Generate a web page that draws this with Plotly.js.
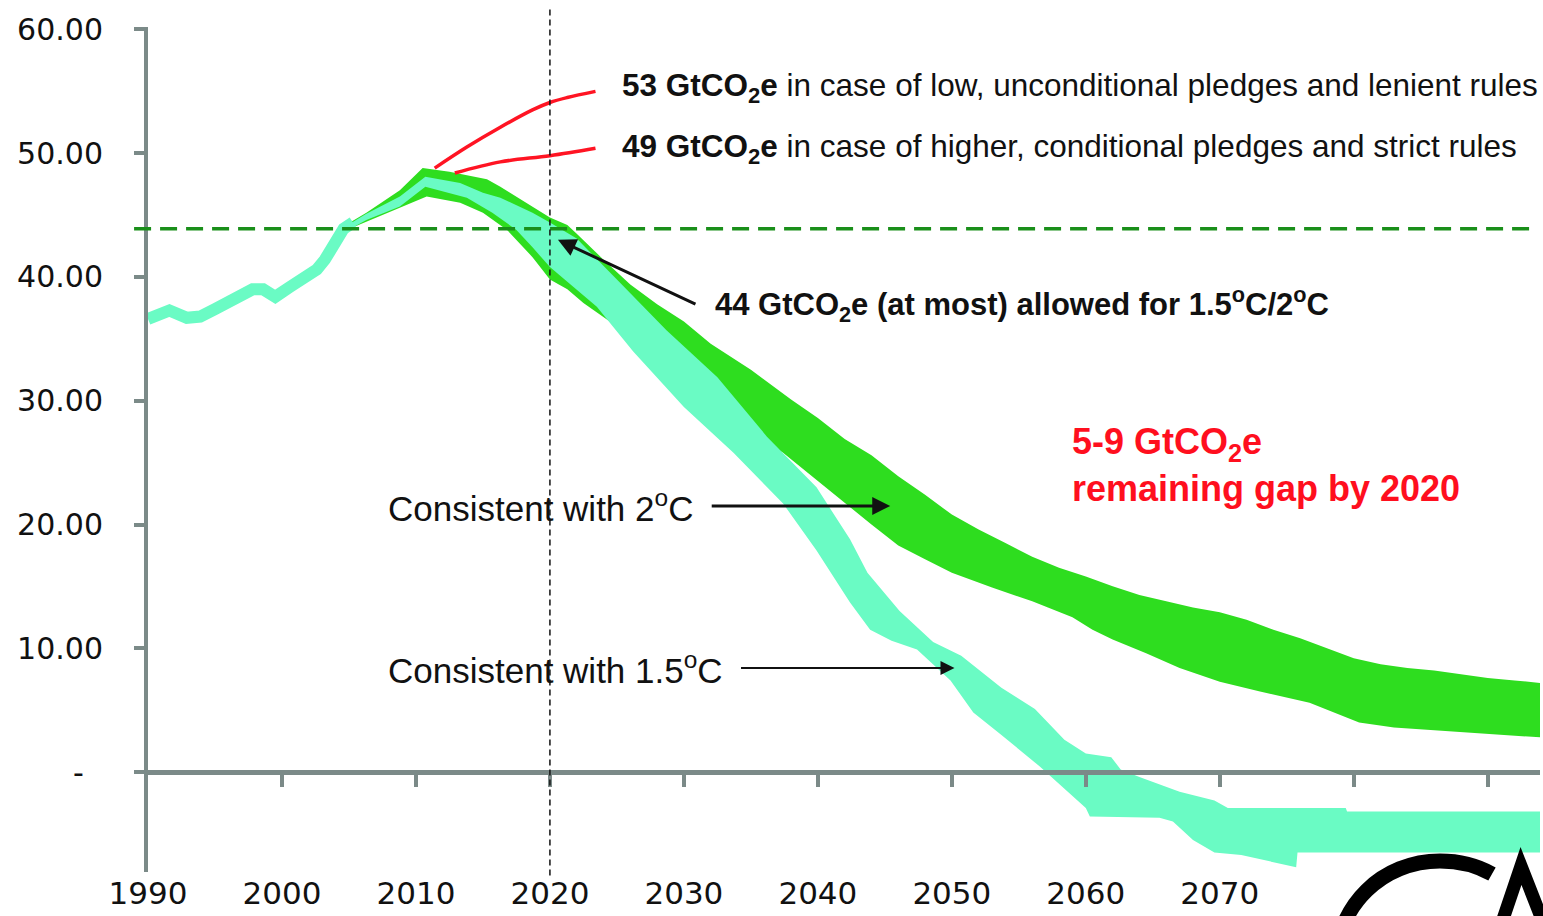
<!DOCTYPE html>
<html>
<head>
<meta charset="utf-8">
<script src="https://cdn.plot.ly/plotly-3.0.1.min.js"></script>
<style>html,body{margin:0;padding:0;background:#fff;}#chart{width:1543px;height:916px;}</style>
</head>
<body>
<div id="chart"></div>
<script>
// Historical emissions (single line)
const histYears = [1990, 1991.6, 1992.9, 1993.9, 1995, 1996.3, 1997.8, 1998.6, 1999.5, 2000.6, 2002.6, 2003.2, 2003.8, 2004.6, 2005.3];
const histValues = [36.6, 37.3, 36.7, 36.8, 37.4, 38.2, 39.0, 39.0, 38.4, 39.2, 40.6, 41.4, 42.6, 43.9, 44.4];

// 2°C band
const band2UpperYears = [2004.6, 2006.3, 2008.8, 2010.5, 2012.5, 2015.3, 2016.3, 2017.5, 2020, 2021.3, 2022, 2024, 2026, 2028, 2030, 2032, 2035, 2038, 2040, 2042, 2044, 2046, 2048, 2050, 2052, 2054, 2056, 2058, 2060, 2062, 2064, 2066, 2068, 2070, 2072, 2074, 2076, 2078, 2080, 2082, 2084, 2086, 2088, 2090, 2092, 2093.9];
const band2UpperValues = [44.1, 45.2, 47.0, 48.8, 48.5, 47.9, 47.3, 46.5, 44.8, 44.2, 43.5, 41.4, 39.4, 37.8, 36.4, 34.6, 32.5, 30.1, 28.6, 26.9, 25.6, 23.9, 22.4, 20.8, 19.6, 18.5, 17.4, 16.5, 15.8, 15.0, 14.3, 13.8, 13.3, 12.9, 12.3, 11.5, 10.8, 10.0, 9.2, 8.7, 8.4, 8.2, 7.9, 7.6, 7.4, 7.2];
const band2LowerYears = [2004.6, 2006.3, 2008.8, 2010.8, 2013.3, 2015, 2016.8, 2018.7, 2020, 2021.3, 2022.5, 2025, 2027.5, 2030, 2032.5, 2035, 2037.4, 2040, 2042.4, 2044, 2046, 2048, 2050, 2053, 2056, 2059, 2060.5, 2062, 2064.5, 2067, 2070, 2073, 2076.7, 2078.5, 2080.4, 2083, 2086, 2090, 2093.9];
const band2LowerValues = [43.7, 44.5, 45.6, 46.5, 46.0, 45.2, 43.8, 41.6, 39.8, 39.0, 37.9, 36.0, 33.9, 31.7, 29.5, 27.5, 25.8, 23.5, 21.4, 20.0, 18.3, 17.2, 16.1, 14.9, 13.8, 12.5, 11.5, 10.7, 9.6, 8.4, 7.3, 6.5, 5.6, 4.8, 4.0, 3.6, 3.4, 3.1, 2.8];

// 1.5°C band
const band15UpperYears = [2004.6, 2006.3, 2008.8, 2010.7, 2013.3, 2015, 2016.3, 2018.7, 2020, 2022, 2025, 2028.7, 2032.5, 2036.2, 2039.9, 2042.4, 2043.7, 2046.1, 2048.6, 2050.7, 2053.7, 2056.2, 2058.4, 2060, 2061.9, 2062.6, 2064, 2067, 2069.6, 2070.6, 2079.4, 2079.5, 2093.9];
const band15UpperValues = [44.0, 45.1, 46.5, 48.1, 47.6, 46.8, 46.4, 45.2, 44.4, 43.1, 39.8, 35.7, 31.9, 27.1, 23.0, 18.8, 16.1, 13.0, 10.5, 9.4, 6.8, 5.1, 2.6, 1.5, 1.2, 0.2, -0.4, -1.6, -2.3, -2.9, -2.9, -3.2, -3.2];
const band15LowerYears = [2004.6, 2006.3, 2008.8, 2010.7, 2013.8, 2015.7, 2017.5, 2018.7, 2020, 2022, 2023.5, 2026.2, 2030, 2033.7, 2037.4, 2039.9, 2042.4, 2043.9, 2045.5, 2047.4, 2049.9, 2051.6, 2053.7, 2056.5, 2060, 2060.3, 2065.5, 2066.5, 2068, 2069.6, 2071.6, 2075.7, 2075.8, 2093.9];
const band15LowerValues = [43.6, 44.6, 45.7, 47.3, 46.4, 45.2, 43.8, 42.4, 40.8, 39.0, 37.6, 34.0, 29.5, 25.8, 21.7, 17.9, 13.7, 11.5, 10.6, 9.9, 7.4, 4.8, 3.0, 0.5, -2.9, -3.6, -3.7, -4.0, -5.5, -6.5, -6.7, -7.7, -6.5, -6.5];

// Pledge pathways (red)
const pledgeLowYears = [2011.4, 2013.8, 2016.3, 2018.7, 2020, 2021.3, 2023.4];
const pledgeLowValues = [48.8, 50.5, 52.1, 53.5, 54.1, 54.5, 55.0];
const pledgeHighYears = [2012.9, 2016.3, 2020, 2023.4];
const pledgeHighValues = [48.4, 49.3, 49.8, 50.4];

const budgetLevel = 43.9;
const markerYear = 2020;

const yTickVals = [0, 10, 20, 30, 40, 50, 60];
const yTickText = ['-\u00a0\u00a0', '10.00', '20.00', '30.00', '40.00', '50.00', '60.00'];
const xTickVals = [1990, 2000, 2010, 2020, 2030, 2040, 2050, 2060, 2070];
const xTickText = ['1990', '2000', '2010', '2020', '2030', '2040', '2050', '2060', '2070'];
const xMinorTicks = [2000, 2010, 2020, 2030, 2040, 2050, 2060, 2070, 2080, 2090];

const GREEN = '#2edd1f';
const MINT = '#6afbc4';
const RED = 'rgb(255,20,35)';
const GRAY = '#7b8a88';

function polygon(ux, uy, lx, ly) {
  return {
    x: ux.concat(lx.slice().reverse()),
    y: uy.concat(ly.slice().reverse())
  };
}
const p2 = polygon(band2UpperYears, band2UpperValues, band2LowerYears, band2LowerValues);
const p15 = polygon(band15UpperYears, band15UpperValues, band15LowerYears, band15LowerValues);

const traces = [
  {x: p2.x, y: p2.y, type: 'scatter', mode: 'lines', fill: 'toself', fillcolor: GREEN, line: {width: 0, color: GREEN}, hoverinfo: 'skip'},
  {x: p15.x, y: p15.y, type: 'scatter', mode: 'lines', fill: 'toself', fillcolor: MINT, line: {width: 0, color: MINT}, hoverinfo: 'skip'},
  {x: histYears, y: histValues, type: 'scatter', mode: 'lines', line: {width: 12, color: MINT}, hoverinfo: 'skip'},
  {x: pledgeLowYears, y: pledgeLowValues, type: 'scatter', mode: 'lines', line: {width: 3.5, color: RED, shape: 'spline'}, hoverinfo: 'skip'},
  {x: pledgeHighYears, y: pledgeHighValues, type: 'scatter', mode: 'lines', line: {width: 3.5, color: RED, shape: 'spline'}, hoverinfo: 'skip'},
  {x: [], y: [], xaxis: 'x2', type: 'scatter', hoverinfo: 'skip'}
];

const xRange = [1990, 2093.9];
const yRange = [-8.08, 60.2];
const zeroFrac = (0 - yRange[0]) / (yRange[1] - yRange[0]);

// Logo decoration (partially visible "CA" mark in the bottom-right corner), in page pixels -> paper
const M = {l: 148, r: 3, t: 27, b: 44};
const PW = 1543 - M.l - M.r, PH = 916 - M.t - M.b;
function px(x) { return ((x - M.l) / PW).toFixed(5); }
function py(y) { return ((916 - M.b - y) / PH).toFixed(5); }
function pt(x, y) { return px(x) + ',' + py(y); }
const logoC = 'M' + pt(1336, 965) + ' C' + pt(1336, 905) + ' ' + pt(1383, 861) + ' ' + pt(1440, 861) +
              ' C' + pt(1458, 861) + ' ' + pt(1476, 865) + ' ' + pt(1492, 874);
const logoA = 'M' + pt(1496, 940) + ' L' + pt(1521, 866) + ' L' + pt(1550, 940);

const annFont = 'Liberation Sans, Arial, sans-serif';

const layout = {
  width: 1543, height: 916,
  margin: M,
  paper_bgcolor: '#fff', plot_bgcolor: '#fff',
  showlegend: false,
  xaxis: {
    range: xRange, tickvals: xTickVals, ticktext: xTickText,
    showline: false, ticks: '', showgrid: false, zeroline: false,
    tickfont: {family: 'DejaVu Sans', size: 31, color: '#111'}
  },
  xaxis2: {
    range: xRange, overlaying: 'x', anchor: 'free', position: zeroFrac,
    tickvals: xMinorTicks, showticklabels: false, ticks: 'outside', ticklen: 12, tickwidth: 4, tickcolor: GRAY,
    showline: true, linecolor: GRAY, linewidth: 5, showgrid: false, zeroline: false
  },
  yaxis: {
    range: yRange, tickvals: yTickVals, ticktext: yTickText,
    showline: true, linecolor: GRAY, linewidth: 4, ticks: 'outside', ticklen: 10, tickwidth: 4, tickcolor: GRAY,
    showgrid: false, zeroline: false, ticklabelstandoff: 25,
    tickfont: {family: 'DejaVu Sans', size: 30, color: '#111'}
  },
  shapes: [
    {type: 'line', xref: 'paper', yref: 'y', x0: -0.01, x1: 0.993, y0: budgetLevel, y1: budgetLevel,
     line: {color: '#1a8f1a', width: 3.5, dash: '17px,9px'}},
    {type: 'line', xref: 'x', yref: 'paper', x0: markerYear, x1: markerYear, y0: -0.004, y1: 1.022,
     line: {color: '#111', width: 1.5, dash: '6px,4px'}},
    {type: 'path', xref: 'paper', yref: 'paper', path: logoC, line: {color: '#000', width: 15}},
    {type: 'path', xref: 'paper', yref: 'paper', path: logoA, line: {color: '#000', width: 13}}
  ],
  annotations: [
    {xref: 'x', yref: 'y', x: 2025.2, y: 55.3, xanchor: 'left', yanchor: 'middle', showarrow: false,
     text: '<b>53 GtCO<sub>2</sub>e</b> in case of low, unconditional pledges and lenient rules',
     font: {family: annFont, size: 31.5, color: '#111'}},
    {xref: 'x', yref: 'y', x: 2025.2, y: 50.4, xanchor: 'left', yanchor: 'middle', showarrow: false,
     text: '<b>49 GtCO<sub>2</sub>e</b> in case of higher, conditional pledges and strict rules',
     font: {family: annFont, size: 31.5, color: '#111'}},
    {xref: 'x', yref: 'y', x: 2032.2, y: 37.75, xanchor: 'left', yanchor: 'middle', showarrow: false,
     text: '<b>44 GtCO<sub>2</sub>e (at most) allowed for 1.5<sup>o</sup>C/2<sup>o</sup>C</b>',
     font: {family: annFont, size: 31, color: '#111'}},
    {xref: 'x', yref: 'y', x: 2020.6, y: 43.0, ax: 139, ay: 65, text: '',
     showarrow: true, arrowhead: 2, arrowsize: 1.2, arrowwidth: 3, arrowcolor: '#111'},
    {xref: 'x', yref: 'y', x: 2007.8, y: 21.5, xanchor: 'left', yanchor: 'middle', showarrow: false,
     text: 'Consistent with 2<sup>o</sup>C', font: {family: annFont, size: 35, color: '#111'}},
    {xref: 'x', yref: 'y', x: 2045.4, y: 21.5, ax: -180, ay: 0, text: '', showarrow: true,
     arrowhead: 2, arrowsize: 1.2, arrowwidth: 3, arrowcolor: '#111'},
    {xref: 'x', yref: 'y', x: 2007.8, y: 8.4, xanchor: 'left', yanchor: 'middle', showarrow: false,
     text: 'Consistent with 1.5<sup>o</sup>C', font: {family: annFont, size: 35, color: '#111'}},
    {xref: 'x', yref: 'y', x: 2050.2, y: 8.4, ax: -215, ay: 0, text: '', showarrow: true,
     arrowhead: 2, arrowsize: 1.4, arrowwidth: 2, arrowcolor: '#111'},
    {xref: 'x', yref: 'y', x: 2058.8, y: 24.8, xanchor: 'left', yanchor: 'middle', align: 'left', showarrow: false,
     text: '<b>5-9 GtCO<sub>2</sub>e<br>remaining gap by 2020</b>',
     font: {family: annFont, size: 36, color: 'rgb(255,15,30)'}}
  ]
};

Plotly.newPlot('chart', traces, layout, {displayModeBar: false, staticPlot: true});
</script>
</body>
</html>
